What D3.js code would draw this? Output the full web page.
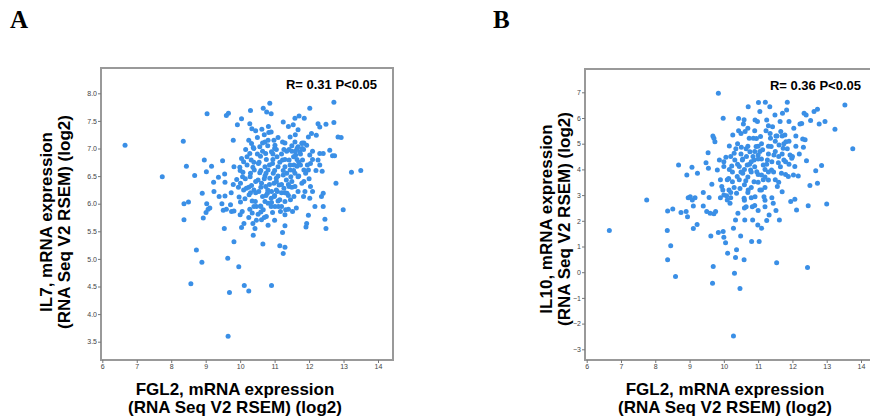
<!DOCTYPE html>
<html>
<head>
<meta charset="utf-8">
<script src="https://cdn.jsdelivr.net/npm/d3@7"></script>
<style>
  body { margin: 0; background: #fff; }
  svg { display: block; }
</style>
</head>
<body>
<div id="chart"></div>
<script>
// Panel A: FGL2 vs IL7
const fgl2A = [6.66,7.74,8.35,8.44,8.37,8.5,8.37,8.68,8.73,8.89,8.57,8.96,9.04,9.17,8.9,9.02,8.93,9.03,9.01,9.07,
  9.12,9.23,9.24,9.37,9.39,9.49,9.47,9.51,9.54,9.55,9.56,9.56,9.6,9.66,9.64,9.69,9.65,9.72,9.74,9.75,
  9.8,9.82,9.82,9.82,9.92,9.96,10.04,9.9,9.95,9.97,10.01,9.99,10.04,10.1,10.08,10.07,10.01,10.06,10.11,10.04,
  10.12,10.25,10.14,10.18,10.16,10.25,10.28,10.3,10.34,10.45,10.33,10.38,10.28,10.32,10.37,10.41,10.29,10.33,10.4,10.26,
  10.28,10.35,10.37,10.38,10.43,10.47,10.44,10.47,10.52,10.57,10.59,10.53,10.57,10.52,10.62,10.54,10.65,10.59,10.67,10.62,
  10.66,10.63,10.67,10.77,10.86,10.9,10.82,10.83,10.72,10.81,10.74,10.76,10.72,10.81,10.72,10.86,10.74,10.79,10.72,10.81,
  10.76,10.81,10.91,10.91,10.94,10.96,10.98,10.91,10.99,10.91,11.01,10.94,10.98,11.01,11.05,11.07,11.1,11.05,11.13,11.08,
  11.15,11.11,11.17,11.15,11.23,11.25,11.3,11.3,11.25,11.23,11.27,11.23,11.3,11.25,11.34,11.27,11.36,11.3,11.32,11.4,
  11.45,11.42,11.42,11.45,11.47,11.42,11.46,11.52,11.54,11.59,11.71,11.86,11.68,11.59,11.68,11.61,11.73,11.56,11.65,11.59,
  11.68,11.59,11.68,11.56,11.63,11.79,11.84,11.81,11.85,11.79,11.88,11.84,11.91,11.93,11.98,12.02,11.98,12.07,11.93,12.02,
  12.04,11.98,12.04,12.1,12.02,12.17,12.21,12.26,12.31,12.31,12.26,12.31,12.38,12.41,12.36,12.41,12.49,12.46,12.49,12.6,
  12.68,12.74,12.72,12.72,12.84,12.93,12.78,12.99,13.23,13.5,12.41,
  10.5,10.6,10.7,10.85,10.95,11.0,11.1,11.2,11.3,11.35,11.5,11.55,11.6,11.65,11.7,11.75,11.5,11.4,11.2,11.05,
  10.9,10.75,10.6,10.45,10.3,10.2,10.15,10.4,10.6,10.9,11.2,11.4,11.0,10.8,11.3,11.1,10.4,10.65,11.5,11.8,
  12.1,12.2,12.0,11.85,10.3,10.1,9.8,9.6,10.0,10.25,
  10.55,10.65,10.75,10.85,10.95,11.05,11.15,11.25,11.35,11.45,11.55,11.65,11.75,11.85,11.95,10.45,10.35,10.25,10.5,10.7,
  10.9,11.1,11.3,11.5,11.7,11.9,12.1,10.6,10.8,11.0,11.2,11.4,11.6,11.8,10.4,10.2,10.0,10.7,11.0,11.3];
const il7 = [7.06,6.49,7.13,6.68,6.0,6.03,5.71,6.51,5.16,4.94,4.55,6.79,7.63,6.68,6.19,6.58,5.74,6.0,5.84,5.9,
  5.92,6.39,6.22,6.48,6.13,6.78,6.0,5.88,5.55,6.54,6.39,6.14,7.6,7.64,5.01,4.39,3.6,5.98,6.2,5.86,
  7.15,5.31,6.67,5.87,7.43,4.86,7.54,6.44,6.3,6.12,6.03,6.66,6.82,6.76,6.57,6.49,6.37,5.86,5.64,5.57,
  4.52,4.42,6.09,6.28,6.98,7.15,7.45,7.69,7.36,7.32,7.09,7.02,6.91,6.79,6.66,6.61,6.49,6.33,6.25,6.16,
  5.9,5.83,5.64,5.43,5.55,5.7,6.04,5.95,5.81,7.03,6.86,6.73,6.56,6.43,6.37,6.22,6.13,5.96,5.89,5.71,
  5.27,7.35,7.73,7.66,7.82,7.63,7.4,7.29,7.12,7.15,6.91,6.8,6.67,6.61,6.5,6.46,6.31,6.19,6.04,6.01,
  5.77,5.61,4.52,6.94,6.73,6.55,6.37,6.22,6.13,6.02,5.95,5.84,7.15,7.06,6.98,6.85,6.67,6.46,6.34,6.22,
  6.07,5.95,5.86,5.24,5.48,5.1,5.21,5.6,7.48,7.12,6.98,6.79,6.67,6.52,6.43,6.28,6.19,6.04,5.89,7.4,
  7.21,6.98,6.79,6.61,6.49,6.31,6.07,5.86,7.43,7.55,7.59,7.55,7.34,7.12,7.03,6.88,6.94,6.7,6.68,6.55,
  6.49,6.31,6.22,6.13,5.92,7.09,6.98,6.79,6.61,6.37,6.22,6.13,5.58,5.64,5.79,7.73,7.21,7.27,7.06,6.88,
  6.73,6.61,6.31,6.22,6.1,5.95,7.24,7.45,7.39,6.91,6.79,6.7,6.59,6.91,6.13,5.95,7.44,5.72,5.55,6.97,
  6.87,6.87,7.84,7.47,7.21,7.2,6.37,5.89,6.57,6.6,6.19,
  6.9,6.6,6.45,6.7,6.9,6.6,6.5,6.9,6.8,6.55,6.95,6.85,6.95,7.0,6.75,6.7,6.3,6.15,6.35,6.25,
  6.1,6.15,6.3,6.4,6.55,6.7,6.45,5.95,5.85,5.95,5.95,5.9,7.0,7.05,7.1,7.2,7.0,7.1,7.05,7.0,
  6.95,6.6,6.45,6.4,6.2,6.25,6.35,5.9,5.8,5.75,
  6.75,6.95,6.55,6.35,6.8,6.4,6.75,6.6,6.95,6.7,6.6,6.8,6.9,7.1,6.7,6.2,6.05,6.3,7.2,7.25,
  7.3,6.05,6.2,6.4,6.5,6.55,6.8,5.95,6.25,6.15,6.2,6.35,7.25,7.1,6.75,6.85,6.6,5.75,5.7,5.8];

// Panel B: FGL2 vs IL10
const fgl2B = [6.66,7.75,8.36,8.51,8.35,8.45,8.36,8.59,8.68,8.75,8.9,8.94,8.92,9.07,8.96,9.02,9.08,9.16,9.11,9.23,
  9.22,9.11,9.4,9.4,9.5,9.48,9.54,9.55,9.6,9.57,9.62,9.65,9.68,9.71,9.74,9.69,9.67,9.71,9.76,9.81,
  9.84,9.84,9.87,9.94,9.97,9.98,10.0,9.98,10.0,10.05,10.06,10.08,10.1,10.11,10.14,10.16,10.16,10.18,10.2,10.23,
  10.25,10.26,10.28,10.31,10.28,10.3,10.32,10.34,10.34,10.37,10.37,10.39,10.41,10.43,10.47,10.43,10.45,10.47,10.49,10.51,
  10.54,10.55,10.57,10.59,10.59,10.61,10.62,10.59,10.64,10.65,10.66,10.68,10.71,10.71,10.74,10.76,10.78,10.81,10.83,10.84,
  10.86,10.88,10.88,10.91,10.91,10.94,10.96,10.98,10.99,11.0,11.01,11.03,11.05,11.05,11.07,11.1,11.1,11.13,11.15,11.17,
  11.2,11.21,11.23,11.25,11.25,11.27,11.3,11.32,11.34,11.36,11.38,11.39,11.42,11.44,11.46,11.49,11.52,11.52,11.54,11.56,
  11.59,11.61,11.62,11.64,11.66,11.68,11.7,11.71,11.73,11.75,11.78,11.81,11.83,11.85,11.88,11.9,11.93,11.95,11.98,12.03,
  12.04,12.07,12.07,12.12,12.17,12.22,12.27,12.3,12.32,12.34,12.37,12.4,12.41,12.46,12.44,12.51,12.53,12.63,12.68,12.73,
  12.73,12.78,12.85,12.95,13.0,13.24,13.53,13.76,
  10.4,10.5,10.6,10.7,10.8,10.9,11.0,11.1,11.2,11.3,11.4,11.5,11.6,11.7,10.6,10.8,11.0,11.2,10.5,10.7,
  10.9,11.1,11.3,11.5,11.0,10.8,10.3,10.1,10.0,9.9,10.2,10.6,10.9,11.2,11.8,12.0,11.9,12.1,10.4,10.2,
  10.45,10.55,10.65,10.75,10.85,10.95,11.05,11.15,11.25,11.35,11.45,11.55,11.65,11.75,11.85,10.35,10.25,10.15,10.5,10.7,
  10.9,11.1,11.3,11.5,11.7,11.9,12.1,12.2,10.6,10.8,11.0,11.2,11.4,11.6,11.8,10.0,9.9,10.7,11.0,11.3];
const il10 = [1.62,2.81,2.38,2.46,1.62,1.03,0.48,-0.17,4.17,2.32,2.36,2.16,3.78,4.08,2.9,2.94,2.81,2.9,2.58,3.85,
  1.86,1.7,3.1,2.58,2.36,4.26,4.65,4.04,2.29,2.91,1.41,3.42,5.3,5.21,5.08,0.22,-0.43,2.27,2.36,3.98,
  6.96,1.54,4.37,3.33,3.2,5.99,4.11,1.58,1.36,1.15,4.47,2.97,2.81,0.74,3.65,4.0,4.91,2.68,3.1,4.13,
  3.52,5.34,1.71,-0.04,-2.48,4.63,4.37,2.03,0.57,0.87,3.07,3.72,2.29,5.98,-0.63,5.5,4.11,3.26,1.41,4.86,
  4.37,3.85,5.77,5.93,2.88,2.03,5.47,0.48,3.56,2.55,4.5,4.17,6.44,3.2,5.21,4.69,3.98,1.19,2.55,2.03,
  5.21,4.37,3.52,5.92,2.94,4.89,3.91,5.86,1.84,4.56,6.6,1.19,6.25,3.2,5.28,1.71,3.78,4.76,4.17,2.94,
  2.55,6.61,5.5,5.92,2.01,4.37,3.59,2.23,6.44,5.21,4.89,3.98,5.66,2.68,4.56,6.12,5.3,2.4,0.37,3.33,
  4.26,4.95,2.03,5.86,5.47,3.85,3.13,6.18,4.82,4.37,5.34,5.08,6.31,6.61,3.72,5.86,4.56,2.75,4.43,3.78,
  5.6,4.11,2.84,2.42,3.74,5.77,5.79,5.18,4.86,6.18,5.15,6.12,4.34,2.59,0.18,3.37,5.9,6.25,3.95,6.34,
  3.46,5.77,4.15,5.86,2.65,5.56,6.51,4.8,
  4.2,3.9,4.0,3.7,4.3,4.1,3.8,4.4,4.0,4.6,4.3,4.7,4.5,4.6,3.4,3.3,3.5,3.3,4.6,4.9,
  4.7,5.0,4.9,5.1,4.4,3.9,3.3,3.6,3.0,3.6,2.9,2.8,2.6,2.8,3.8,4.5,5.1,4.9,5.0,4.5,
  3.6,4.4,4.8,4.2,4.5,5.2,4.7,3.6,4.2,5.4,3.9,5.3,4.1,5.0,4.8,4.8,3.9,3.2,5.4,5.6,
  5.5,3.2,3.9,3.6,5.3,4.2,5.3,4.6,2.5,2.9,2.4,3.7,2.9,3.5,4.3,4.3,2.9,3.1,4.9,5.7];

const xTicks = [6, 7, 8, 9, 10, 11, 12, 13, 14];
const il7Ticks = [3.5, 4.0, 4.5, 5.0, 5.5, 6.0, 6.5, 7.0, 7.5, 8.0];
const il10Ticks = [-3, -2, -1, 0, 1, 2, 3, 4, 5, 6, 7];

const dotColor = "#3a8fe6";
const frameColor = "#999";
const font = "'Liberation Sans', Arial, Helvetica, sans-serif";

const svg = d3.select("#chart").append("svg")
    .attr("width", 870)
    .attr("height", 418);

const panels = [
  { letter: "A", lx: 10, xs: fgl2A, ys: il7, yTicks: il7Ticks, yFmt: d3.format(".1f"),
    box: { left: 101, right: 393, top: 68, bottom: 360 },
    xr: [102.3, 378], yd: [3.5, 8], yr: [341.7, 93.3],
    stat: "R= 0.31 P<0.05", statX: 377, statY: 89,
    yLab: ["IL7, mRNA expression", "(RNA Seq V2 RSEM) (log2)"], yLabX: 52, yLabY: 222, xLabX: 235 },
  { letter: "B", lx: 493, xs: fgl2B, ys: il10, yTicks: il10Ticks, yFmt: d3.format("d"),
    box: { left: 585, right: 880, top: 69, bottom: 360 },
    xr: [586.7, 861], yd: [-3, 7], yr: [349.3, 92.3],
    stat: "R= 0.36 P<0.05", statX: 861, statY: 90,
    yLab: ["IL10, mRNA expression", "(RNA Seq V2 RSEM) (log2)"], yLabX: 552, yLabY: 219, xLabX: 725 }
];

panels.forEach(p => {
  const x = d3.scaleLinear().domain([6, 14]).range(p.xr);
  const y = d3.scaleLinear().domain(p.yd).range(p.yr);
  const g = svg.append("g");

  // panel letter
  g.append("text")
      .attr("x", p.lx).attr("y", 28)
      .attr("font-family", "'Liberation Serif', 'Times New Roman', serif")
      .attr("font-weight", "bold")
      .attr("font-size", 25)
      .text(p.letter);

  // frame
  g.append("rect")
      .attr("x", p.box.left).attr("y", p.box.top)
      .attr("width", p.box.right - p.box.left)
      .attr("height", p.box.bottom - p.box.top)
      .attr("fill", "none")
      .attr("stroke", frameColor)
      .attr("stroke-width", 2);

  // axes
  const yAxis = d3.axisLeft(y).tickValues(p.yTicks).tickFormat(p.yFmt).tickSize(3).tickPadding(1);
  const xAxis = d3.axisBottom(x).tickValues(xTicks).tickSize(3).tickPadding(1);

  const ya = g.append("g")
      .attr("transform", `translate(${p.box.left},0)`)
      .call(yAxis);
  const xa = g.append("g")
      .attr("transform", `translate(0,${p.box.bottom})`)
      .call(xAxis);
  [ya, xa].forEach(a => {
    a.select(".domain").remove();
    a.selectAll("line").attr("stroke", "#777");
    a.selectAll("text").attr("font-family", font).attr("font-size", 7).attr("fill", "#444");
  });

  // points
  g.append("g").selectAll("circle")
      .data(p.xs.map((v, i) => [v, p.ys[i]]))
      .enter()
      .append("circle")
      .attr("cx", d => x(d[0]))
      .attr("cy", d => y(d[1]))
      .attr("r", 2.5)
      .attr("fill", dotColor);

  // correlation text
  g.append("text")
      .attr("x", p.statX).attr("y", p.statY)
      .attr("text-anchor", "end")
      .attr("font-family", font)
      .attr("font-weight", "bold")
      .attr("font-size", 13)
      .text(p.stat);

  // x axis title
  const xl = g.append("text")
      .attr("text-anchor", "middle")
      .attr("font-family", font)
      .attr("font-weight", "bold")
      .attr("font-size", 17);
  xl.append("tspan").attr("x", p.xLabX).attr("y", 395).text("FGL2, mRNA expression");
  xl.append("tspan").attr("x", p.xLabX).attr("y", 413).text("(RNA Seq V2 RSEM) (log2)");

  // y axis title
  const yl = g.append("text")
      .attr("transform", `translate(${p.yLabX},${p.yLabY}) rotate(-90)`)
      .attr("text-anchor", "middle")
      .attr("font-family", font)
      .attr("font-weight", "bold")
      .attr("font-size", 17);
  yl.append("tspan").attr("x", 0).attr("y", 0).text(p.yLab[0]);
  yl.append("tspan").attr("x", 0).attr("y", 18).text(p.yLab[1]);
});
</script>
</body>
</html>
